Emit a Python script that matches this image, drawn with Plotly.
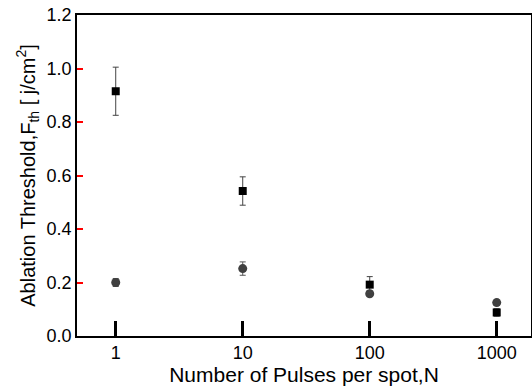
import plotly.graph_objects as go

pulses = [1, 10, 100, 1000]
sq_vals = [0.915, 0.542, 0.192, 0.088]
sq_err = [0.09, 0.053, 0.03, 0.014]
ci_vals = [0.200, 0.252, 0.158, 0.125]
ci_err = [0.015, 0.025, 0.01, 0.01]

major_x = [1, 10, 100, 1000]
major_y = [0, 0.2, 0.4, 0.6, 0.8, 1.0, 1.2]
x_range = [-0.305, 3.27]
y_range = [0, 1.2]

fig = go.Figure()
fig.add_trace(go.Scatter(
    x=pulses, y=ci_vals, mode="markers",
    marker=dict(symbol="circle", size=9, color="#404040"),
    error_y=dict(type="data", array=ci_err, color="#555555", thickness=1, width=3),
    showlegend=False))
fig.add_trace(go.Scatter(
    x=pulses, y=sq_vals, mode="markers",
    marker=dict(symbol="square", size=8, color="#000000"),
    error_y=dict(type="data", array=sq_err, color="#444444", thickness=1, width=3),
    showlegend=False))

font = dict(family="Liberation Sans, Arial, sans-serif", color="#000000")
fig.update_layout(
    width=532, height=390,
    margin=dict(l=77, r=1, t=15, b=54),
    paper_bgcolor="white", plot_bgcolor="white",
    font=dict(size=18, **font),
    xaxis=dict(
        type="log", range=x_range, automargin=False,
        tickvals=major_x, ticktext=[str(v) for v in major_x],
        ticks="inside", ticklen=15, tickwidth=3, tickcolor="black",
        showline=True, linecolor="black", linewidth=1.5, mirror=True,
        showgrid=False, zeroline=False,
        title=dict(text="Number of Pulses per spot,N",
                   font=dict(size=21, family="Liberation Sans Narrow, Arial Narrow, sans-serif"), standoff=4),
        tickfont=dict(size=18),
    ),
    yaxis=dict(
        range=y_range, tickvals=major_y, tickformat=".1f", automargin=False,
        ticks="inside", ticklen=6, tickwidth=1.5, tickcolor="red",
        showline=True, linecolor="black", linewidth=1.5, mirror=True,
        showgrid=False, zeroline=False,
        title=dict(text="Ablation Threshold,F<sub>th</sub> [ j/cm<sup>2</sup>]", font=dict(size=20), standoff=6),
        tickfont=dict(size=18),
    ),
)

fig.write_html("out.html", config={"displayModeBar": False},
               post_script="document.body.style.margin='0';document.body.style.padding='0';")
